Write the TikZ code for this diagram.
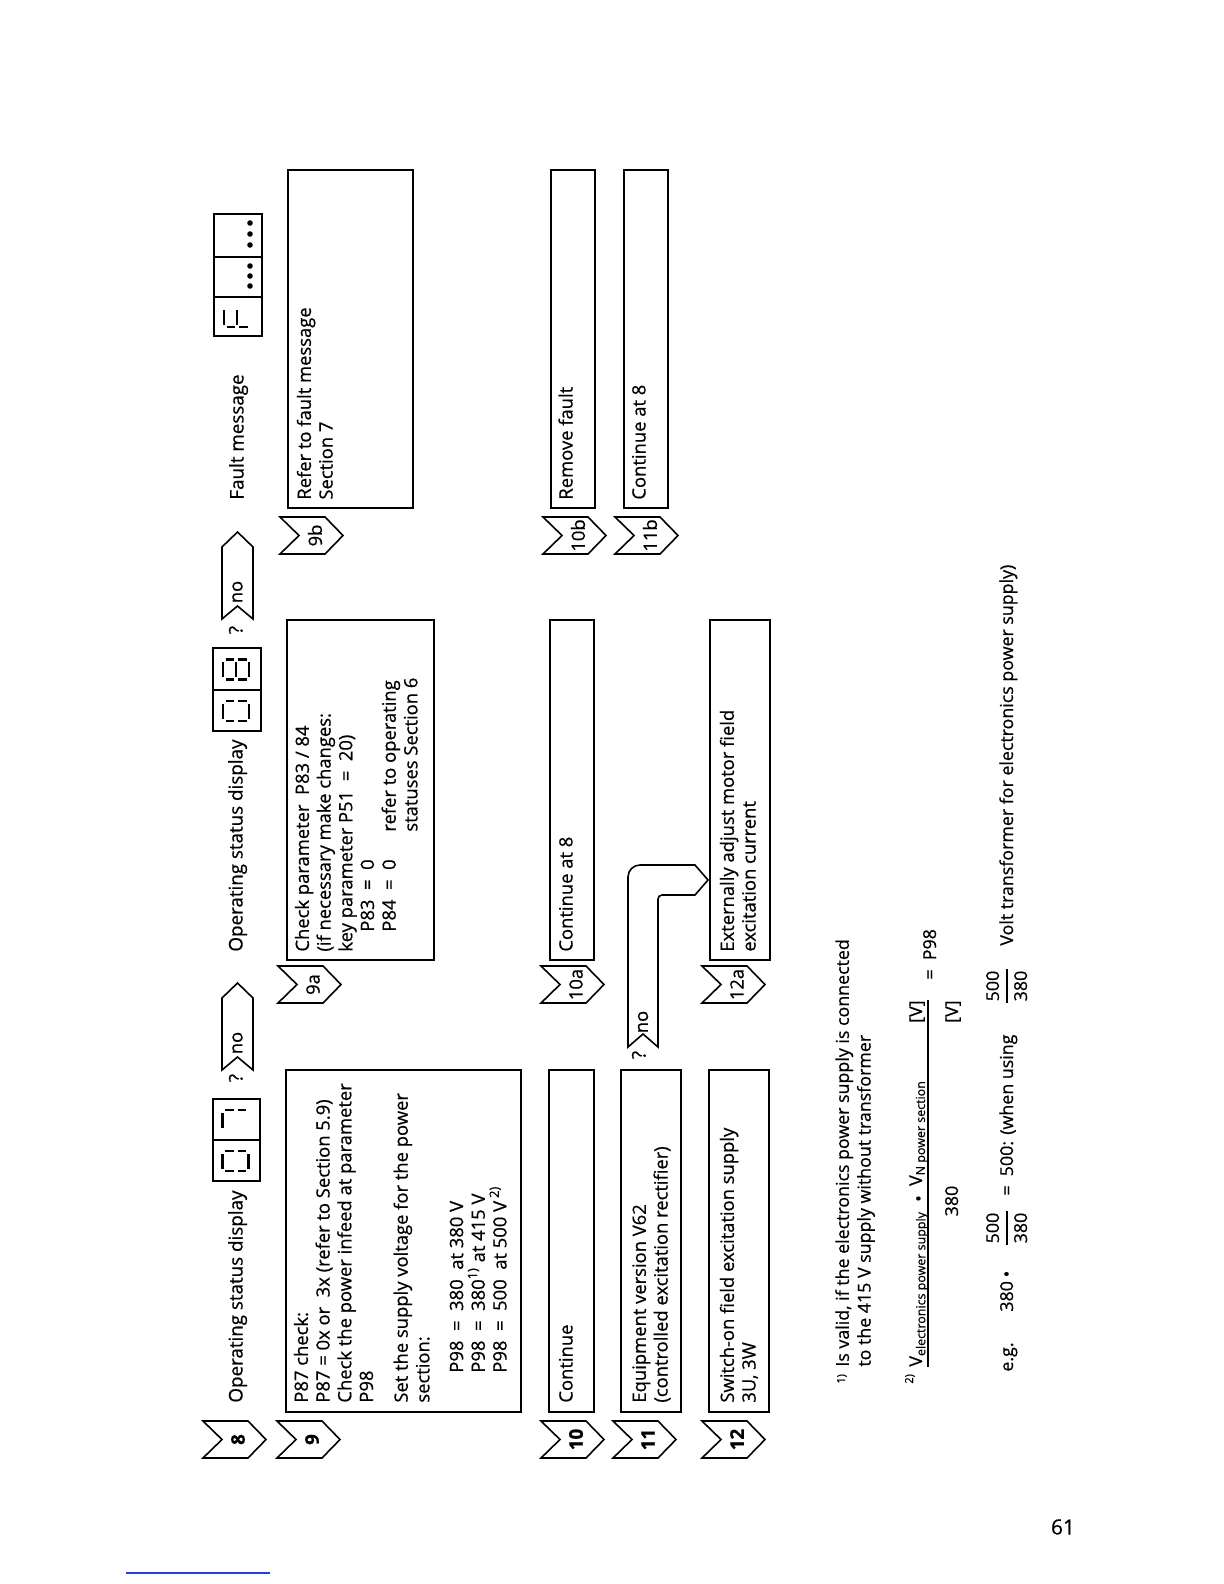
\documentclass[tikz,border=0pt]{standalone}
\usepackage{fontspec}
\setmainfont{Open Sans}[FakeBold=0.6]
\newcommand\bodyf{\fontsize{9.2}{10.85}\selectfont}
\newcommand\footf{\fontsize{8.9}{10.85}\selectfont}
\newcommand\headf{\fontsize{9.4}{10.85}\selectfont}
\newcommand\markf{\fontsize{5.5}{6.5}\selectfont}
\definecolor{linkblue}{RGB}{40,60,230}
\tikzset{
  bx/.style={draw, line width=0.8pt, inner sep=0pt, anchor=north west},
  chv/.style={draw, line width=0.8pt, line join=miter},
  chvnum/.style={font=\fontsize{9.4}{10}\selectfont\bfseries, inner sep=0pt},
  chvlab/.style={font=\fontsize{9.2}{10}\selectfont, inner sep=0pt},
  ml/.style={font=\bodyf, inner sep=0pt, anchor=north west, align=left},
  sl/.style={font=\bodyf, inner sep=0pt, anchor=base west},
  fml/.style={font=\footf, inner sep=0pt, anchor=north west, align=left},
  fsl/.style={font=\footf, inner sep=0pt, anchor=base west},
  fsb/.style={font=\footf, inner sep=0pt, anchor=base},
  hd/.style={font=\headf, inner sep=0pt, anchor=base west},
  mk/.style={font=\markf, inner sep=0pt, anchor=base west},
  seg/.style={line width=1.4pt},
  rule/.style={line width=0.6pt},
}
% seven segment pieces, centre (#1,#2)
\newcommand\sgA[2]{\draw[seg] (#1-7.5,#2+13) -- (#1+7.5,#2+13);}
\newcommand\sgB[2]{\draw[seg] (#1+10,#2+10.5) -- (#1+10,#2+2);}
\newcommand\sgC[2]{\draw[seg] (#1+10,#2-2) -- (#1+10,#2-10.5);}
\newcommand\sgD[2]{\draw[seg] (#1-7.5,#2-13) -- (#1+7.5,#2-13);}
\newcommand\sgE[2]{\draw[seg] (#1-10,#2-2) -- (#1-10,#2-10.5);}
\newcommand\sgF[2]{\draw[seg] (#1-10,#2+10.5) -- (#1-10,#2+2);}
\newcommand\sgG[2]{\draw[seg] (#1-7.5,#2) -- (#1+7.5,#2);}
\newcommand\dzero[2]{\sgA{#1}{#2}\sgB{#1}{#2}\sgC{#1}{#2}\sgD{#1}{#2}\sgE{#1}{#2}\sgF{#1}{#2}}
\newcommand\dseven[2]{\sgA{#1}{#2}\sgB{#1}{#2}\sgC{#1}{#2}}
\newcommand\deight[2]{\dzero{#1}{#2}\sgG{#1}{#2}}
\newcommand\deff[2]{\sgA{#1}{#2}\sgE{#1}{#2}\sgF{#1}{#2}\sgG{#1}{#2}}
% chevron: name, left X, top (down), label, label style
\newcommand\chev[5]{%
  \draw[chv] (#2,-#3) -- (#2+18.5,-#3-19) -- (#2+37,-#3) -- (#2+37,-#3-45)
    -- (#2+18.5,-#3-63) -- (#2,-#3-45) -- cycle;
  \node[#5] (#1) at (#2+18.5,-#3-35) {#4};}
% no arrow: name, tail X, top (down)
\newcommand\noarr[3]{%
  \draw[chv] (#2,-#3) -- (#2+72,-#3) -- (#2+87,-#3-15.5) -- (#2+72,-#3-31)
    -- (#2,-#3-31) -- (#2+13,-#3-15.5) -- cycle;
  \node[font=\bodyf, inner sep=0pt] (#1) at (#2+27,-#3-15.5) {no};}
\begin{document}
\begin{tikzpicture}[x=0.5pt,y=0.5pt]
\useasboundingbox (0,0) rectangle (1224,-1584);
\begin{scope}[shift={(0,-1584)}, rotate=90, transform shape]
% ---------- header row
\chev{c8}{126}{203}{8}{chvnum}
\node[hd] (h1) at (181,-242.5) {Operating status display};
\node[bx, minimum width=41pt, minimum height=23.5pt] (disp1) at (402,-212) {};
\draw[line width=0.8pt] (444,-212) -- (444,-259);
\dzero{423}{-235.5}
\dseven{464}{-235.5}
\node[font=\headf, inner sep=0pt, anchor=base] (q1) at (506,-242.5) {?};
\noarr{no1}{514}{222}
\node[hd] (h2) at (632,-242.5) {Operating status display};
\node[bx, minimum width=41.5pt, minimum height=24pt] (disp2) at (852,-212) {};
\draw[line width=0.8pt] (894,-212) -- (894,-260);
\dzero{873}{-236}
\deight{914.5}{-236}
\node[font=\headf, inner sep=0pt, anchor=base] (q2) at (954,-242.5) {?};
\noarr{no2}{965}{222}
\node[hd] (h3) at (1084,-243.5) {Fault message};
\node[bx, minimum width=61pt, minimum height=24pt] (disp3) at (1247,-213) {};
\draw[line width=0.8pt] (1287,-213) -- (1287,-261);
\draw[line width=0.8pt] (1327,-213) -- (1327,-261);
\deff{1267}{-237}
\foreach \dx in {1298,1308,1318,1339,1350,1361} {\fill (\dx,-250) circle[radius=2.8];}
% ---------- row 9
\chev{c9}{126}{277}{9}{chvnum}
\node[bx, minimum width=171pt, minimum height=117.5pt] (b9) at (171,-285) {};
\node[ml] (t9) at (181,-292.3) {\strut P87 check:\\
P87 = 0x or\ \ 3x (refer to Section 5.9)\\
Check the power infeed at parameter\\
P98\\[6.5pt]
Set the supply voltage for the power\\
section:\\[6pt]
\hspace*{15pt}P98\ \ =\ \ 380\ \ at 380 V\\
\hspace*{15pt}P98\ \ =\ \ 380\textsuperscript{1)}\ at 415 V\\
\hspace*{15pt}P98\ \ =\ \ 500\ \ at 500 V\,\textsuperscript{2)}};
\chev{c9a}{581}{278}{9a}{chvlab}
\node[bx, minimum width=170pt, minimum height=73.5pt] (b9a) at (623,-286) {};
\node[ml] (t9a) at (632,-293.3) {\strut Check parameter\ \ P83 / 84\\
(if necessary make changes:\\
key parameter P51\ \ =\ \ 20)\\
\hspace*{10pt}P83\ \ =\ \ 0\\
\hspace*{10pt}\makebox[50pt][l]{P84\ \ =\ \ 0}refer to operating\\
\hspace*{60pt}statuses Section 6};
\chev{c9b}{1030}{280}{9b}{chvlab}
\node[bx, minimum width=169pt, minimum height=62.5pt] (b9b) at (1075,-287) {};
\node[ml] (t9b) at (1084,-295.3) {\strut Refer to fault message\\Section 7};
% ---------- row 10
\chev{c10}{126}{541}{10}{chvnum}
\node[bx, minimum width=171pt, minimum height=22.5pt] (b10) at (171,-548) {};
\node[sl] (t10) at (181,-572.5) {Continue};
\chev{c10a}{581}{541}{10a}{chvlab}
\node[bx, minimum width=170pt, minimum height=22pt] (b10a) at (623,-549) {};
\node[sl] (t10a) at (632,-572.5) {Continue at 8};
\chev{c10b}{1030}{543}{10b}{chvlab}
\node[bx, minimum width=169pt, minimum height=22pt] (b10b) at (1075,-550) {};
\node[sl] (t10b) at (1084,-572.5) {Remove fault};
% ---------- row 11
\chev{c11}{126}{613}{11}{chvnum}
\node[bx, minimum width=171pt, minimum height=30pt] (b11) at (171,-620) {};
\node[ml] (t11) at (181,-630.3) {\strut Equipment version V62\\(controlled excitation rectifier)};
\node[font=\headf, inner sep=0pt, anchor=base] (q3) at (529,-645.5) {?};
\draw[chv] (537,-628) -- (707,-628) arc[start angle=90, end angle=0, radius=12]
  -- (719,-695) -- (704,-708) -- (689,-695) -- (689,-662)
  arc[start angle=0, end angle=90, radius=4] -- (537,-658) -- (550,-643) -- cycle;
\node[font=\bodyf, inner sep=0pt] (no3) at (562,-643) {no};
\chev{c11b}{1030}{615}{11b}{chvlab}
\node[bx, minimum width=169pt, minimum height=22pt] (b11b) at (1075,-623) {};
\node[sl] (t11b) at (1084,-645.5) {Continue at 8};
% ---------- row 12
\chev{c12}{126}{702}{12}{chvnum}
\node[bx, minimum width=171pt, minimum height=30pt] (b12) at (171,-708) {};
\node[ml] (t12) at (181,-718.3) {\strut Switch-on field excitation supply\\3U, 3W};
\chev{c12a}{581}{702}{12a}{chvlab}
\node[bx, minimum width=170pt, minimum height=30pt] (b12a) at (623,-709) {};
\node[ml] (t12a) at (632,-718.3) {\strut Externally adjust motor field\\excitation current};
% ---------- footnotes
\node[mk] (m1) at (200,-845) {1)};
\node[fml] (n1) at (217,-833.3) {\strut Is valid, if the electronics power supply is connected\\to the 415 V supply without transformer};
\node[mk] (m2) at (200,-913) {2)};
\node[fsl] (f2a) at (217,-922) {V\textsubscript{electronics power supply}\ \ \raisebox{-0.3ex}{\textbullet}\ \ V\textsubscript{N power section}};
\node[font=\footf, inner sep=0pt, anchor=base east] (f2v) at (584,-922) {[V]};
\draw[rule] (217,-928) -- (584,-928);
\node[fsl] (f2eq) at (604,-936) {=\ \ P98};
\node[fsb] (f2d) at (383,-958) {380};
\node[font=\footf, inner sep=0pt, anchor=base east] (f2dv) at (584,-958) {[V]};
\node[fsl] (eg) at (212,-1013) {e.g.};
\node[fsl] (e380) at (272,-1013) {380};
\node[fsb] (ebul) at (310,-1013) {\textbullet};
\node[fsb] (fr1n) at (356,-999) {500};
\draw[rule] (339,-1007) -- (373,-1007);
\node[fsb] (fr1d) at (356,-1027) {380};
\node[fsl] (eq) at (388,-1013) {=\ \ 500: (when using};
\node[fsb] (fr2n) at (598,-999) {500};
\draw[rule] (581,-1007) -- (615,-1007);
\node[fsb] (fr2d) at (598,-1027) {380};
\node[fsl] (volt) at (638,-1013) {Volt transformer for electronics power supply)};
\end{scope}
% ---------- page number and link line
\node[font=\fontsize{10.5}{12}\selectfont, inner sep=0pt] (pg) at (1063,-1527) {61};
\draw[linkblue, line width=0.7pt] (126,-1573) -- (270,-1573);
\end{tikzpicture}
\end{document}
